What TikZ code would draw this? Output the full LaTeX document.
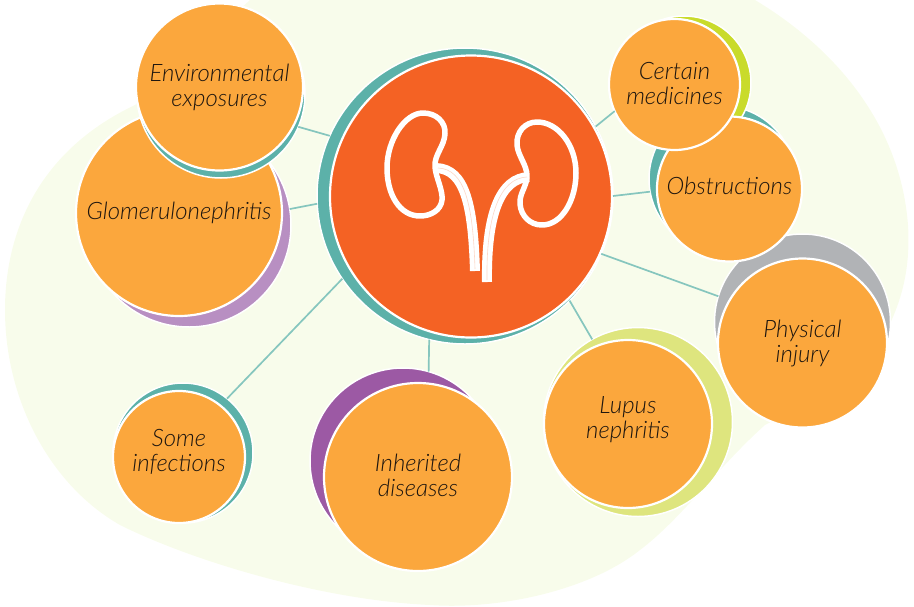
\documentclass[tikz,border=0pt]{standalone}
\usepackage{fontspec}
\setmainfont{Lato Light}
\usepackage{tikz}
\usetikzlibrary{
  positioning
}
\definecolor{kidBack}{RGB}{248,252,235}
\definecolor{kidHub}{RGB}{244,98,36}
\definecolor{kidDisc}{RGB}{251,167,61}
\definecolor{kidTeal}{RGB}{92,177,169}
\definecolor{kidSpoke}{RGB}{134,198,190}
\definecolor{kidMauve}{RGB}{184,143,194}
\definecolor{kidPurple}{RGB}{156,89,164}
\definecolor{kidLime}{RGB}{201,219,43}
\definecolor{kidPale}{RGB}{222,229,126}
\definecolor{kidGray}{RGB}{177,179,182}
\definecolor{kidText}{RGB}{30,22,15}
\tikzset{
  causeRing/.style={
    circle,
    draw=white,
    line width=1.5pt,
    inner sep=0pt,
    outer sep=0pt
  },
  causeDisc/.style={
    circle,
    draw=white,
    fill=kidDisc,
    line width=2.2pt,
    inner sep=0pt,
    outer sep=0pt,
    align=center,
    text=kidText,
    font=\fontsize{24}{25}\selectfont\itshape
  },
  spokeLine/.style={
    draw=kidSpoke,
    line width=1.7pt
  },
  kidneyLine/.style={
    draw=white,
    line width=5.5pt,
    line join=round
  },
  ureterLine/.style={
    draw=white,
    line width=10pt
  },
  ureterSeam/.style={
    draw=kidHub!25,
    line width=0.6pt
  }
}

\begin{document}
\begin{tikzpicture}[x=1pt,y=-1pt]
  \useasboundingbox (0,0) rectangle (914,606);
  \fill[kidBack] (250,0) -- (755,0)
    .. controls (830,45) and (900,120) .. (908,225)
    .. controls (912,290) and (890,330) .. (860,375)
    -- (765,425)
    .. controls (720,465) and (680,520) .. (640,550)
    .. controls (590,590) and (500,610) .. (430,605)
    .. controls (320,600) and (190,560) .. (120,525)
    .. controls (50,485) and (5,400) .. (5,310)
    .. controls (5,230) and (40,150) .. (135,105) -- cycle;

  \node[causeRing, fill=kidTeal, minimum size=296pt] (hubRing) at (465,196) {};
  \node[causeDisc, fill=kidHub, minimum size=282pt] (hub) at (471,196.5) {};

  \node[causeRing, fill=kidMauve, minimum size=204pt] (glomRing) at (189,225) {};
  \node[causeDisc, minimum size=206pt] (glom) at (179,213) {Glomerulonephritis};
  \node[causeRing, fill=kidTeal, minimum size=168pt] (envRing) at (221,94) {};
  \node[causeDisc, minimum size=167pt] (env) at (219.5,87) {Environmental\\exposures};

  \node[causeRing, fill=kidGray, minimum size=176pt] (injuryRing) at (802.5,322) {};
  \node[causeDisc, minimum size=169pt] (injury) at (802.5,343) {Physical\\injury};

  \node[causeRing, fill=kidTeal, minimum size=146pt] (obstrRing) at (722,179) {};
  \node[causeRing, fill=kidLime, minimum size=134pt] (medRing) at (684,83) {};
  \node[causeDisc, minimum size=145pt, text depth=6pt] (obstr) at (729.5,189) {Obstructions};
  \node[causeDisc, minimum size=131pt, text depth=2pt] (med) at (674.5,84.5) {Certain\\medicines};

  \node[causeRing, fill=kidPale, minimum size=189pt] (lupusRing) at (638,422) {};
  \node[causeDisc, minimum size=168pt, text depth=13pt] (lupus) at (628,424) {Lupus\\nephritis};

  \node[causeRing, fill=kidPurple, minimum size=186pt] (inhRing) at (403,461) {};
  \node[causeDisc, minimum size=188pt, text depth=4pt] (inh) at (418,477) {Inherited\\diseases};

  \node[causeRing, fill=kidTeal, minimum size=140pt] (infectRing) at (183,453) {};
  \node[causeDisc, minimum size=132pt, text depth=14pt] (infect) at (179,457) {Some\\infections};

  \draw[spokeLine] (hubRing.156.7) -- (envRing.-23.1);
  \draw[spokeLine] (hubRing.183.8) -- (glomRing.9.6);
  \draw[spokeLine] (hubRing.214.5) -- (infectRing.51.2);
  \draw[spokeLine] (hubRing.256) -- (inhRing.74.8);
  \draw[spokeLine] (hubRing.-45.8) -- (lupusRing.119.7);
  \draw[spokeLine] (hubRing.-23.6) -- (injuryRing.163.7);
  \draw[spokeLine] (hubRing.0.8) -- (obstrRing.190.9);
  \draw[spokeLine] (hubRing.28.8) -- (med.204.8);

  \draw[kidneyLine] (423,113) .. controls (436,113) and (446,122) .. (445,134)
    .. controls (444,147) and (434,155) .. (435,167)
    .. controls (436,178) and (443,190) .. (442,200)
    .. controls (441,210) and (431,216) .. (420,216)
    .. controls (400,216) and (387,195) .. (387,168)
    .. controls (387,140) and (405,113) .. (423,113) -- cycle;
  \draw[kidneyLine] (537,122) .. controls (525,122) and (516,132) .. (517,145)
    .. controls (518,156) and (527,165) .. (527,176)
    .. controls (527,186) and (519,194) .. (520,204)
    .. controls (521,216) and (530,225) .. (542,225)
    .. controls (562,225) and (576,200) .. (576,173)
    .. controls (576,145) and (558,122) .. (537,122) -- cycle;
  \draw[ureterLine] (436,168) .. controls (465,169) and (473,205) .. (475,271);
  \draw[ureterLine] (529,177) .. controls (500,178) and (486,215) .. (487,282);
  \draw[ureterSeam] (438,168) .. controls (465,169) and (473,205) .. (475,269);
  \draw[ureterSeam] (527,177) .. controls (500,178) and (486,215) .. (487,280);
\end{tikzpicture}
\end{document}
